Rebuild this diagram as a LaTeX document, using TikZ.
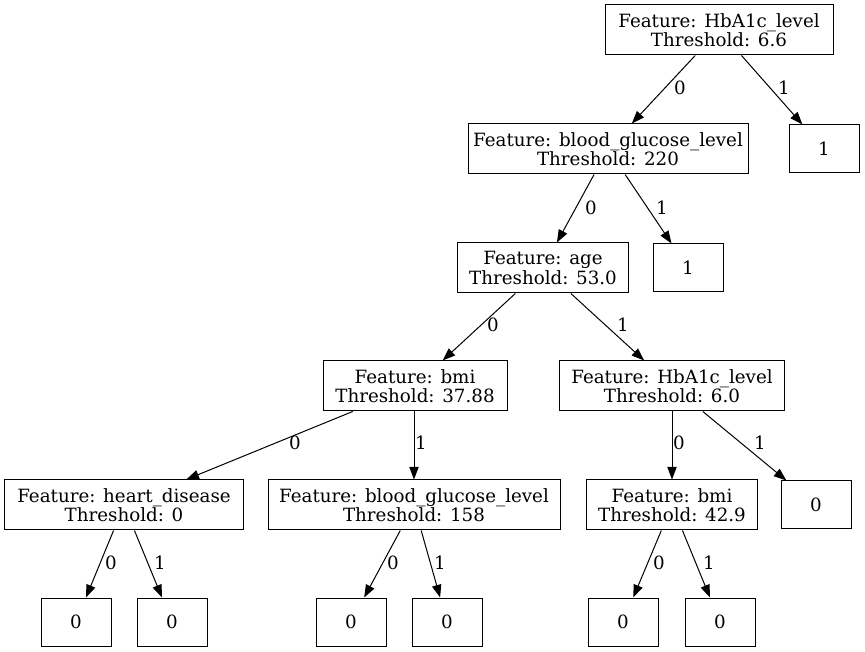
\documentclass[tikz,border=0pt]{standalone}
\usepackage{fontspec}
\setmainfont{DejaVu Serif}
\usetikzlibrary{arrows.meta}
\begin{document}
\begin{tikzpicture}[x=0.75pt,y=-0.75pt,
  tfont/.style={font=\fontsize{13.7}{14.6}\selectfont},
  tnode/.style={draw,line width=0.75pt,align=center,inner sep=0pt,minimum height=37.5pt,tfont},
  leaf/.style={draw,line width=0.75pt,inner sep=0pt,minimum width=52.5pt,minimum height=36pt,tfont},
  elabel/.style={inner sep=0pt,tfont},
  edge/.style={line width=0.75pt,-{Triangle[length=9.5pt,width=7pt]}}]
\useasboundingbox (0,0) rectangle (865,652);
% nodes
\node[tnode,minimum width=171pt] (root) at (719,30) {Feature: HbA1c\_level\\Threshold: 6.6};
\node[leaf] (l1) at (824,149) {1};
\node[tnode,minimum width=210pt] (bg1) at (608,149) {Feature: blood\_glucose\_level\\Threshold: 220};
\node[leaf] (l2) at (688,268) {1};
\node[tnode,minimum width=128.25pt] (age) at (543,268) {Feature: age\\Threshold: 53.0};
\node[tnode,minimum width=138pt] (bmi1) at (415,386) {Feature: bmi\\Threshold: 37.88};
\node[tnode,minimum width=168.75pt] (hb2) at (672,386) {Feature: HbA1c\_level\\Threshold: 6.0};
\node[tnode,minimum width=179.25pt] (hd) at (124,505) {Feature: heart\_disease\\Threshold: 0};
\node[tnode,minimum width=219pt] (bg2) at (414,505) {Feature: blood\_glucose\_level\\Threshold: 158};
\node[tnode,minimum width=128.25pt] (bmi2) at (672,505) {Feature: bmi\\Threshold: 42.9};
\node[leaf] (l3) at (816,505) {0};
\node[leaf] (l4) at (76,622) {0};
\node[leaf] (l5) at (172,622) {0};
\node[leaf] (l6) at (351,622) {0};
\node[leaf] (l7) at (447,622) {0};
\node[leaf] (l8) at (623,622) {0};
\node[leaf] (l9) at (720,622) {0};
% edges
\draw[edge] (root) -- (bg1);
\draw[edge] (root) -- (l1);
\draw[edge] (bg1) -- (age);
\draw[edge] (bg1) -- (l2);
\draw[edge] (age) -- (bmi1);
\draw[edge] (age) -- (hb2);
\draw[edge] (bmi1) -- (hd);
\draw[edge] (bmi1.south -| bg2.north) -- (bg2.north);
\draw[edge] (hb2.south) -- (bmi2.north);
\draw[edge] (hb2) -- (l3);
\draw[edge] (hd) -- (l4);
\draw[edge] (hd) -- (l5);
\draw[edge] (bg2) -- (l6);
\draw[edge] (bg2) -- (l7);
\draw[edge] (bmi2) -- (l8);
\draw[edge] (bmi2) -- (l9);
% labels
\node[elabel] (e1) at (680,88) {0};
\node[elabel] (e2) at (784,88) {1};
\node[elabel] (e3) at (591,208) {0};
\node[elabel] (e4) at (662,208) {1};
\node[elabel] (e5) at (493,325) {0};
\node[elabel] (e6) at (623,325) {1};
\node[elabel] (e7) at (295,443) {0};
\node[elabel] (e8) at (421,443) {1};
\node[elabel] (e9) at (679,443) {0};
\node[elabel] (e10) at (760,443) {1};
\node[elabel] (e11) at (111,563) {0};
\node[elabel] (e12) at (160,563) {1};
\node[elabel] (e13) at (393,563) {0};
\node[elabel] (e14) at (440,563) {1};
\node[elabel] (e15) at (659,563) {0};
\node[elabel] (e16) at (709,563) {1};
\end{tikzpicture}
\end{document}
